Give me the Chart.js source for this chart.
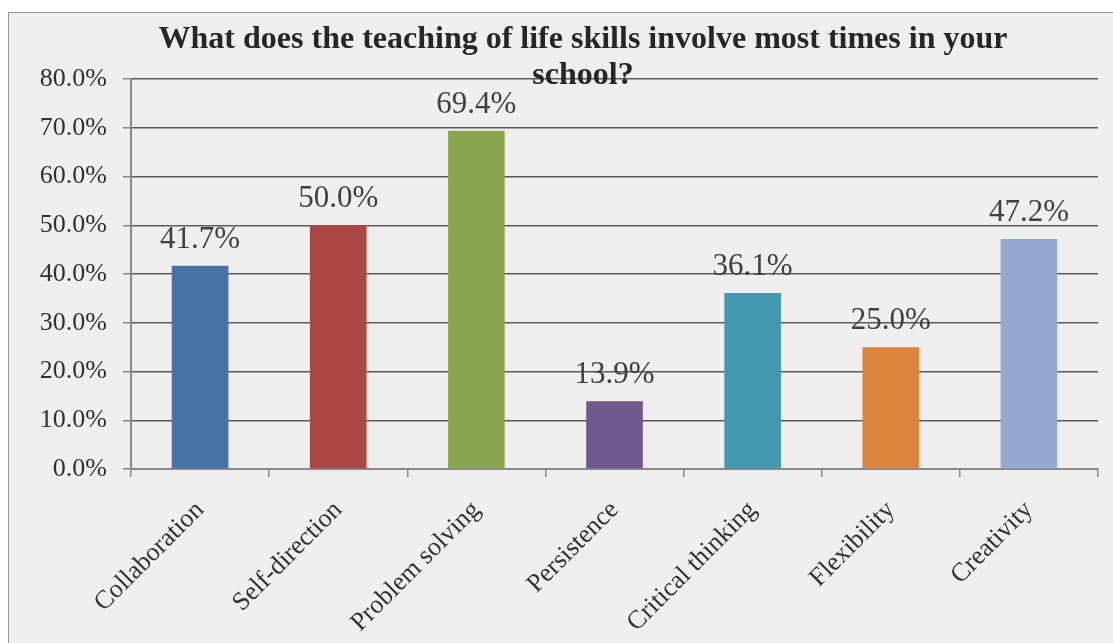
<!DOCTYPE html>
<html>
<head>
<meta charset="utf-8">
<script src="https://cdn.jsdelivr.net/npm/chart.js@4/dist/chart.umd.min.js"></script>
<style>
  html, body { margin: 0; padding: 0; background: #fff; overflow: hidden; }
  #frame { position: absolute; left: 8px; top: 12px; width: 1104px; height: 700px;
           background: #eeeeee; border: 1px solid #999; }
  #c { position: absolute; left: 0; top: 0; }
</style>
</head>
<body>
<div id="frame"></div>
<canvas id="c" width="1113" height="643"></canvas>
<script>
const titleLines = ['What does the teaching of life skills involve most times in your', 'school?'];
const skills = ['Collaboration', 'Self-direction', 'Problem solving', 'Persistence', 'Critical thinking', 'Flexibility', 'Creativity'];
const shares = [41.7, 50.0, 69.4, 13.9, 36.1, 25.0, 47.2];
const barColors = ['#4672a8', '#aa4644', '#89a54e', '#71588f', '#4198af', '#db843d', '#93a9cf'];
const yMax = 80;
const yStep = 10;

const serif = '"Liberation Serif", "Times New Roman", serif';

// labels above each bar
const valueLabels = {
    id: 'valueLabels',
    afterDatasetsDraw(chart) {
        const ctx = chart.ctx;
        const meta = chart.getDatasetMeta(0);
        ctx.save();
        ctx.font = '31px ' + serif;
        ctx.fillStyle = '#404040';
        ctx.textAlign = 'center';
        ctx.textBaseline = 'alphabetic';
        meta.data.forEach((bar, i) => {
            ctx.fillText(shares[i].toFixed(1) + '%', bar.x, bar.y - 18);
        });
        ctx.restore();
    }
};

// the original title is centred a bit right of the canvas middle
const shiftTitle = {
    id: 'shiftTitle',
    afterLayout(chart) {
        if (chart.titleBlock) chart.titleBlock.left += 68;
    }
};

new Chart(document.getElementById('c'), {
    type: 'bar',
    data: {
        labels: skills,
        datasets: [{
            data: shares,
            backgroundColor: barColors,
            categoryPercentage: 1,
            barPercentage: 0.41
        }]
    },
    options: {
        responsive: false,
        animation: false,
        layout: { padding: { left: 0, right: 15, top: 0, bottom: 0 } },
        plugins: {
            legend: { display: false },
            tooltip: { enabled: false },
            title: {
                display: true,
                text: titleLines,
                color: '#262626',
                font: { family: serif, size: 32, weight: 'bold', lineHeight: 1.125 },
                padding: { top: 22, bottom: -15 }
            }
        },
        scales: {
            x: {
                afterFit(scale) { scale.height = 174; },
                grid: { drawOnChartArea: false, tickLength: 8, color: '#888', lineWidth: 1.5 },
                border: { color: '#888', width: 2 },
                ticks: {
                    color: '#303030',
                    font: { family: serif, size: 26 },
                    maxRotation: 45,
                    minRotation: 45,
                    padding: 18
                }
            },
            y: {
                min: 0,
                max: yMax,
                afterFit(scale) { scale.width = 131; },
                grid: { color: '#5a5a5a', lineWidth: 1.5, tickLength: 8, tickColor: '#888' },
                border: { color: '#888', width: 2 },
                ticks: {
                    stepSize: yStep,
                    color: '#303030',
                    font: { family: serif, size: 26 },
                    padding: 16,
                    callback: v => v.toFixed(1) + '%'
                }
            }
        }
    },
    plugins: [valueLabels, shiftTitle]
});
</script>
</body>
</html>
